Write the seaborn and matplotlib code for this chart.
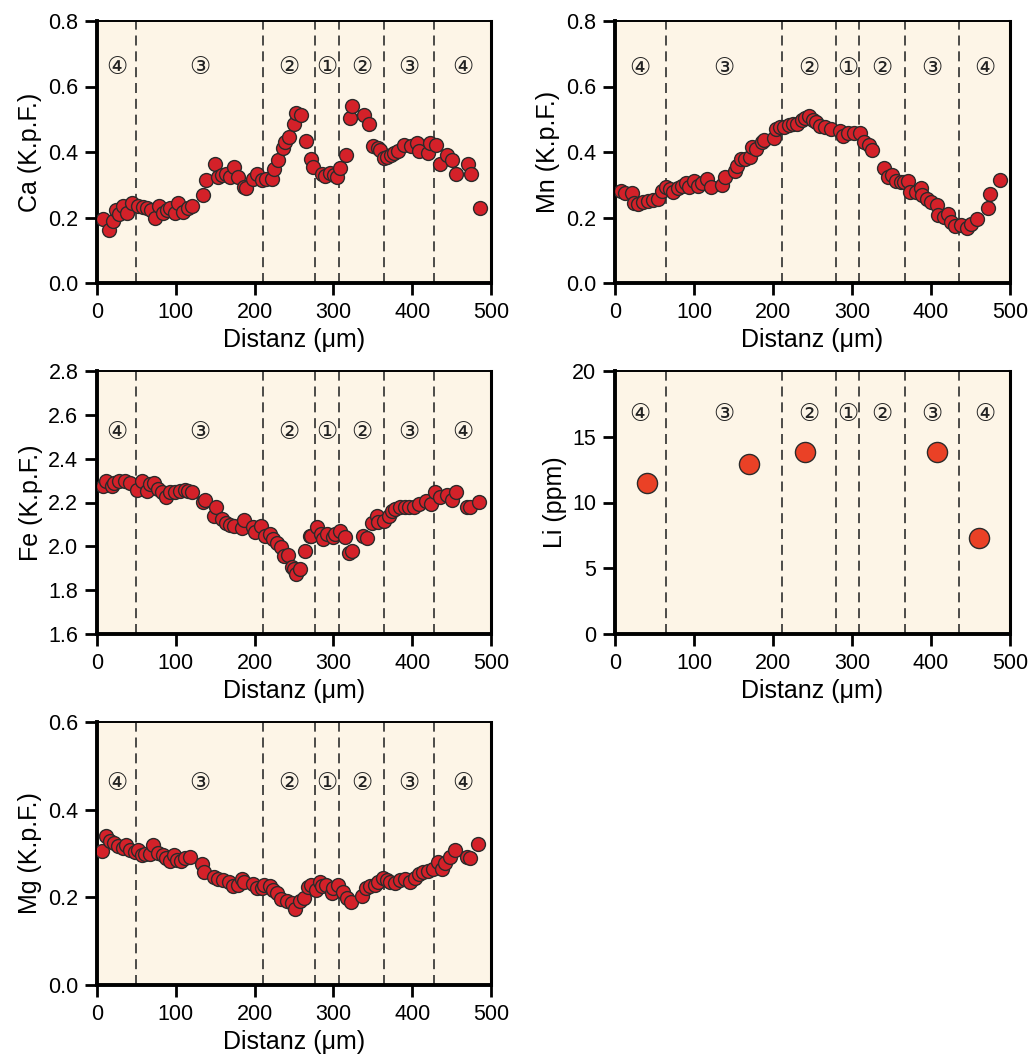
import matplotlib
matplotlib.use("Agg")
import matplotlib.pyplot as plt
import matplotlib.transforms as mtransforms
import seaborn as sns
import pandas as pd

# Profile data (distance in um)
ca_x = [8, 15, 20, 24, 28, 33, 38, 44, 52, 58, 64, 69, 74, 79, 84, 89, 93, 99, 103, 109,
        115, 121, 135, 138, 150, 153, 158, 164, 169, 174, 179, 186, 189, 198, 203, 209,
        215, 222, 224, 230, 236, 239, 244, 250, 252, 259, 265, 271, 274, 286, 289, 296,
        301, 304, 309, 316, 321, 324, 339, 345, 350, 356, 359, 364, 368, 373, 377, 382,
        389, 398, 406, 409, 420, 423, 430, 435, 444, 451, 456, 471, 474, 486]
ca_y = [0.194, 0.162, 0.19, 0.223, 0.21, 0.235, 0.213, 0.243, 0.235, 0.231, 0.228, 0.223,
        0.2, 0.235, 0.215, 0.223, 0.23, 0.213, 0.243, 0.218, 0.228, 0.235, 0.268, 0.314,
        0.363, 0.324, 0.329, 0.333, 0.324, 0.355, 0.324, 0.294, 0.29, 0.319, 0.334, 0.314,
        0.319, 0.319, 0.347, 0.377, 0.411, 0.431, 0.446, 0.487, 0.52, 0.513, 0.434, 0.378,
        0.355, 0.332, 0.327, 0.335, 0.33, 0.325, 0.35, 0.391, 0.503, 0.54, 0.513, 0.484,
        0.419, 0.411, 0.406, 0.383, 0.385, 0.391, 0.396, 0.404, 0.421, 0.418, 0.426, 0.404,
        0.398, 0.428, 0.42, 0.362, 0.391, 0.376, 0.333, 0.363, 0.333, 0.228]

mn_x = [8, 13, 21, 24, 29, 35, 42, 48, 54, 60, 65, 69, 74, 80, 85, 90, 94, 100, 105, 110,
        116, 121, 136, 139, 152, 154, 160, 165, 171, 173, 179, 186, 189, 201, 204, 209,
        214, 220, 225, 231, 237, 240, 245, 250, 254, 260, 266, 273, 285, 289, 295, 302,
        310, 315, 321, 325, 340, 345, 351, 356, 362, 366, 371, 374, 381, 387, 389, 395,
        400, 407, 409, 416, 422, 425, 431, 438, 445, 450, 458, 472, 475, 487]
mn_y = [0.281, 0.274, 0.274, 0.243, 0.241, 0.248, 0.251, 0.253, 0.258, 0.282, 0.294, 0.286,
        0.279, 0.289, 0.297, 0.305, 0.294, 0.31, 0.297, 0.305, 0.317, 0.294, 0.299, 0.323,
        0.343, 0.357, 0.378, 0.378, 0.384, 0.415, 0.408, 0.432, 0.437, 0.442, 0.469, 0.475,
        0.475, 0.482, 0.487, 0.485, 0.497, 0.505, 0.509, 0.497, 0.492, 0.479, 0.477, 0.469,
        0.465, 0.449, 0.457, 0.457, 0.457, 0.432, 0.421, 0.406, 0.35, 0.323, 0.33, 0.31,
        0.307, 0.307, 0.31, 0.279, 0.279, 0.289, 0.268, 0.258, 0.248, 0.238, 0.209, 0.202,
        0.21, 0.187, 0.174, 0.177, 0.167, 0.18, 0.196, 0.23, 0.272, 0.314]

fe_x = [7, 12, 19, 22, 28, 36, 42, 51, 57, 63, 67, 72, 78, 82, 88, 93, 99, 105, 112, 116,
        120, 135, 137, 149, 151, 158, 164, 169, 174, 184, 187, 198, 201, 208, 213, 220,
        223, 228, 234, 237, 243, 247, 250, 253, 258, 264, 270, 272, 279, 284, 287, 292,
        299, 302, 308, 315, 320, 323, 337, 343, 349, 355, 357, 364, 370, 374, 378, 385,
        391, 396, 402, 408, 418, 424, 429, 435, 444, 450, 456, 470, 473, 485]
fe_y = [2.276, 2.299, 2.276, 2.291, 2.299, 2.299, 2.291, 2.256, 2.299, 2.253, 2.283, 2.291,
        2.261, 2.246, 2.223, 2.246, 2.246, 2.253, 2.256, 2.253, 2.246, 2.203, 2.211, 2.14,
        2.18, 2.125, 2.105, 2.099, 2.094, 2.083, 2.12, 2.09, 2.064, 2.094, 2.049, 2.056,
        2.033, 2.014, 1.996, 1.954, 1.959, 1.905, 1.898, 1.875, 1.898, 1.98, 2.048, 2.048,
        2.086, 2.056, 2.033, 2.056, 2.044, 2.056, 2.068, 2.044, 1.968, 1.98, 2.048, 2.038,
        2.105, 2.14, 2.11, 2.117, 2.14, 2.16, 2.17, 2.18, 2.18, 2.18, 2.18, 2.192, 2.208,
        2.192, 2.246, 2.223, 2.235, 2.211, 2.246, 2.18, 2.18, 2.203]

li_x = [40, 170, 240, 408, 461]
li_y = [11.5, 12.95, 13.85, 13.85, 7.3]

mg_x = [6, 12, 17, 22, 27, 33, 37, 42, 48, 52, 57, 61, 67, 71, 78, 84, 88, 93, 98, 102,
        106, 112, 118, 133, 136, 148, 154, 160, 168, 173, 179, 184, 186, 198, 203, 209,
        212, 219, 223, 229, 234, 241, 247, 251, 257, 263, 268, 272, 278, 283, 286, 291,
        298, 300, 306, 312, 317, 322, 336, 341, 346, 353, 357, 363, 368, 372, 378, 384,
        391, 397, 404, 409, 414, 420, 426, 433, 438, 442, 448, 454, 469, 473, 484]
mg_y = [0.306, 0.339, 0.328, 0.323, 0.317, 0.313, 0.319, 0.307, 0.303, 0.307, 0.296, 0.3,
        0.3, 0.319, 0.302, 0.296, 0.29, 0.284, 0.297, 0.286, 0.284, 0.29, 0.292, 0.277,
        0.258, 0.247, 0.241, 0.239, 0.235, 0.226, 0.227, 0.242, 0.234, 0.231, 0.221, 0.221,
        0.229, 0.226, 0.216, 0.21, 0.197, 0.191, 0.188, 0.174, 0.191, 0.198, 0.224, 0.229,
        0.216, 0.234, 0.226, 0.227, 0.21, 0.221, 0.229, 0.212, 0.198, 0.189, 0.204, 0.221,
        0.226, 0.227, 0.235, 0.244, 0.239, 0.236, 0.233, 0.239, 0.242, 0.236, 0.244, 0.254,
        0.258, 0.259, 0.264, 0.281, 0.265, 0.279, 0.292, 0.307, 0.292, 0.29, 0.322]

# zone boundaries (um) and zone labels
bounds_left = [49.5, 211, 277, 307, 364, 428]
bounds_right = [64, 211, 280, 309, 367, 435]
zone_labels = ["④", "③", "②", "①", "②", "③", "④"]

sns.set_style("ticks")
plt.rcParams["font.family"] = ["Liberation Sans", "DejaVu Sans"]
plt.rcParams["axes.edgecolor"] = "black"
plt.rcParams["axes.labelcolor"] = "black"
plt.rcParams["text.color"] = "black"
plt.rcParams["xtick.major.width"] = 2.0
plt.rcParams["ytick.major.width"] = 2.0
plt.rcParams["xtick.major.size"] = 8.5
plt.rcParams["ytick.major.size"] = 8.5
plt.rcParams["xtick.color"] = "black"
plt.rcParams["ytick.color"] = "black"

W, H = 1034, 1054
fig = plt.figure(figsize=(W / 100, H / 100), dpi=100)

bg = "#fdf5e7"
dot = "#d42129"


def make_axes(left, top, right, bottom):
    return fig.add_axes([left / W, 1 - bottom / H, (right - left) / W, (bottom - top) / H])


def draw_panel(ax, xs, ys, ylim, yticks, ylabel, bounds, label_y, color=dot, size=100):
    df = pd.DataFrame({"x": xs, "y": ys})
    ax.set_facecolor(bg)
    for b in bounds:
        ax.axvline(b, color="#2e2e2e", lw=1.2, ls=(0, (6, 3.5)), zorder=1)
    sns.scatterplot(data=df, x="x", y="y", ax=ax, s=size, color=color,
                    edgecolor="#2b2b2b", linewidth=1.0, zorder=3, legend=False)
    edges = [0] + bounds + [500]
    trans = mtransforms.blended_transform_factory(ax.transData, ax.transAxes)
    for i, lab in enumerate(zone_labels):
        ax.text((edges[i] + edges[i + 1]) / 2, label_y, lab, transform=trans,
                ha="center", va="center", fontsize=17,
                family=["DejaVu Sans"], color="#222222")
    ax.set_xlim(0, 500)
    ax.set_ylim(*ylim)
    ax.set_xticks([0, 100, 200, 300, 400, 500])
    ax.set_yticks(yticks)
    ax.set_yticklabels([str(t) for t in yticks])
    ax.tick_params(labelsize=15.5, pad=5)
    ax.set_xlabel("Distanz (μm)", fontsize=18, labelpad=3.5)
    ax.set_ylabel(ylabel, fontsize=18, labelpad=4)
    for side in ["left", "bottom"]:
        ax.spines[side].set_linewidth(2.8)
    ax.spines["right"].set_linewidth(2.2)
    ax.spines["top"].set_linewidth(1.4)


ax_ca = make_axes(97, 21, 491, 283)
draw_panel(ax_ca, ca_x, ca_y, (0, 0.8), [0.0, 0.2, 0.4, 0.6, 0.8], "Ca (K.p.F.)",
           bounds_left, 0.824)

ax_mn = make_axes(615, 21, 1010, 283)
draw_panel(ax_mn, mn_x, mn_y, (0, 0.8), [0.0, 0.2, 0.4, 0.6, 0.8], "Mn (K.p.F.)",
           bounds_right, 0.82)

ax_fe = make_axes(97, 371, 491, 634)
draw_panel(ax_fe, fe_x, fe_y, (1.6, 2.8), [1.6, 1.8, 2.0, 2.2, 2.4, 2.6, 2.8], "Fe (K.p.F.)",
           bounds_left, 0.768)

ax_li = make_axes(615, 371, 1010, 634)
draw_panel(ax_li, li_x, li_y, (0, 20), [0, 5, 10, 15, 20], "Li (ppm)", bounds_right,
           0.836, color="#ea4126", size=210)

ax_mg = make_axes(97, 722, 491, 985)
draw_panel(ax_mg, mg_x, mg_y, (0, 0.6), [0.0, 0.2, 0.4, 0.6], "Mg (K.p.F.)",
           bounds_left, 0.768)

fig.savefig("out.png", dpi=100, facecolor="white")
